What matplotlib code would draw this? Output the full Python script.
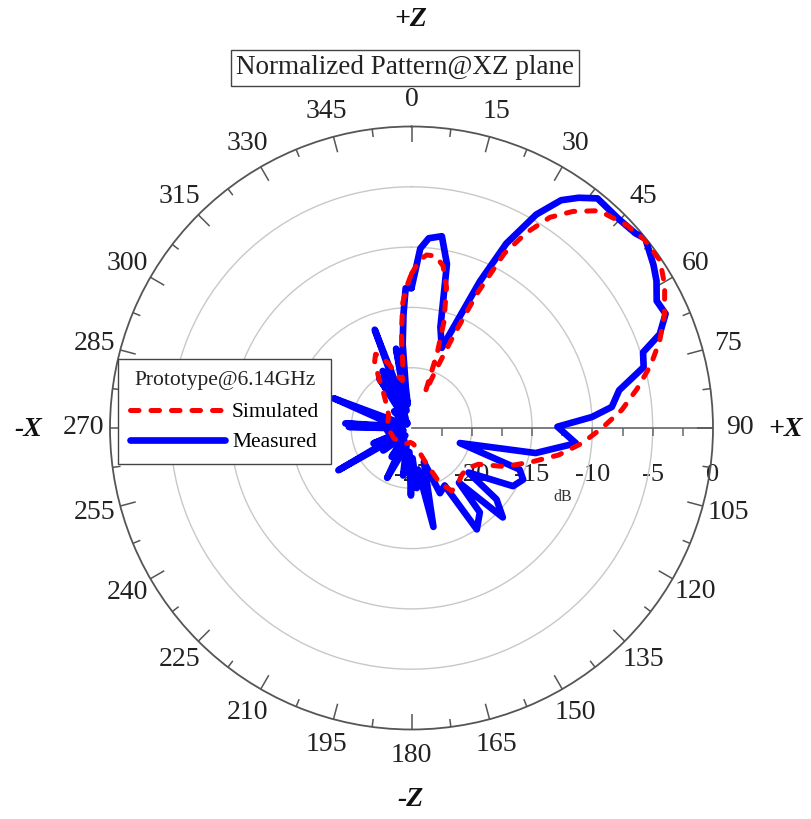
import numpy as np
import matplotlib
matplotlib.use('Agg')
import matplotlib.pyplot as plt
from matplotlib.transforms import ScaledTranslation

plt.rcParams['font.family'] = ['Liberation Serif', 'DejaVu Serif']

# ---------------- data ----------------
sim_deg = [0, 3, 5, 8, 11, 14, 17, 19, 21, 23, 24.5, 26, 28, 30.5, 33.3, 36.7, 40.8,
           46.5, 51, 56, 60.6, 65.8, 70.7, 75.3, 80.1, 85.1, 90, 95.1, 100.4, 105.6,
           112.4, 118.5, 126, 133, 140, 147.5, 153, 158, 165, 175, 185, 200, 220, 240,
           260, 280, 300, 315, 322, 327, 331, 334, 337, 341, 345, 349, 352, 354, 356,
           358, 360]
sim_db = [-12.2, -11.0, -10.6, -10.6, -11.3, -13.0, -15.8, -18.5, -21.8, -19.5, -16.5,
          -12.6, -8.6, -6.2, -4.1, -2.6, -1.2, -0.5, -0.15, -0.15, -0.9, -2.0, -3.2,
          -4.5, -6.0, -7.5, -9.2, -10.8, -12.6, -14.6, -16.6, -18.7, -19.3, -19.3,
          -19.0, -18.8, -20.0, -22.0, -23.3, -23.7, -23.8, -23.6, -23.5, -23.3, -23.2,
          -23.0, -22.8, -22.0, -21.2, -20.0, -18.7, -18.2, -18.5, -19.5, -20.5, -21.0,
          -19.8, -17.0, -14.6, -13.3, -12.2]

meas_deg = [0, 2.8, 5.2, 9.0, 12.2, 16.0, 20.7, 25.0, 27.2, 30.3, 33.3, 36.0, 39.0,
            44.7, 49.0, 51.0, 56.0, 59.0, 62.6, 65.8, 69.3, 71.9, 75.3, 79.7, 84.0,
            86.5, 89.5, 93.7, 95.3, 101.4, 107.3, 111.0, 114.8, 119.8, 128.0, 130.0,
            134.4, 139.0, 141.0, 147.2, 150.0, 156.4, 160.0, 167.5, 171.0, 175.0,
            178.0, 180.5, 185.0, 190.0, 196.0, 206.0, 210.0, 214.6, 220.0, 231.5,
            236.0, 240.0, 244.0, 248.0, 253.0, 262.0, 267.0, 271.0, 272.6, 274.0,
            278.0, 284.0, 290.9, 295.0, 305.0, 314.0, 320.0, 327.0, 330.0, 333.2,
            336.0, 339.5, 344.0, 349.0, 351.0, 352.0, 354.0, 356.0, 357.6, 360]
meas_db = [-13.4, -10.1, -9.2, -8.9, -11.1, -16.3, -17.9, -11.6, -7.8, -4.5, -2.4,
           -1.4, -0.5, -0.6, -0.4, -0.05, -0.8, -1.3, -2.1, -1.9, -3.0, -4.8, -5.1,
           -7.5, -8.3, -10.0, -12.9, -11.8, -11.3, -14.5, -20.8, -15.4, -14.8, -15.3,
           -19.0, -15.8, -14.4, -19.0, -16.0, -15.0, -19.5, -19.1, -22.0, -16.6,
           -21.5, -20.0, -22.5, -19.4, -23.0, -21.0, -23.5, -20.4, -23.8, -22.1,
           -24.2, -22.0, -24.0, -18.0, -24.0, -21.6, -24.3, -23.0, -24.2, -19.8,
           -23.0, -19.5, -24.0, -22.8, -18.1, -24.2, -24.5, -23.0, -24.5, -20.1,
           -24.0, -19.7, -23.5, -16.3, -23.5, -18.3, -23.0, -21.6, -18.0, -15.5,
           -13.4, -13.4]

angle_labels = [str(a) for a in range(0, 360, 15)]
r_labels = ['-25', '-20', '-15', '-10', '-5', '0']
r_values = [-25, -20, -15, -10, -5, 0]

# ---------------- figure ----------------
W, H = 811, 819
fig = plt.figure(figsize=(W / 100, H / 100), dpi=100)
cx, cy, R = 411.5, 428.0, 301.5
ax = fig.add_axes([(cx - R) / W, (H - cy - R) / H, 2 * R / W, 2 * R / H],
                  projection='polar')
ax.set_theta_zero_location('N')
ax.set_theta_direction(-1)
ax.set_ylim(-25, 0)
ax.set_xticks([])
ax.set_yticks([-20, -15, -10, -5])
ax.set_yticklabels([])
ax.yaxis.grid(True, color='#c8c8c8', lw=1.0)
ax.spines['polar'].set_color('#555555')
ax.spines['polar'].set_linewidth(1.3)
ax.tick_params(axis='y', length=0)

px_per_db = R / 25.0

# angular ticks
for k, a in enumerate(np.arange(0, 360, 7.5)):
    L = 16 / px_per_db if k % 2 == 0 else 8 / px_per_db
    t = np.deg2rad(a)
    ax.plot([t, t], [0, -L], color='#555555', lw=1.1, clip_on=False,
            solid_capstyle='butt', zorder=3)

# angular labels
for lab in angle_labels:
    t = np.deg2rad(float(lab))
    ax.text(t, 26.5 / px_per_db, lab, ha='center', va='center', fontsize=20,
            color='#222222', clip_on=False)

# radial axis line and ticks
ax.plot([np.pi / 2, np.pi / 2], [-25, 0], color='#666666', lw=1.2, zorder=2)
minor_r = np.arange(-22.5, 0, 2.5)
ax.plot([np.pi / 2] * len(minor_r), minor_r, ls='none', marker=3, ms=5.5, mew=1.1,
        color='#666666', zorder=2)

down = ScaledTranslation(0, -47 / 100, fig.dpi_scale_trans)
for lab, v in zip(r_labels, r_values):
    ax.text(np.pi / 2, v, lab, ha='center', va='center', fontsize=19,
            color='#222222', transform=ax.transData + down, zorder=1)
ax.text(np.pi / 2, -12.44, 'dB', ha='center', va='center', fontsize=11.5,
        color='#333333',
        transform=ax.transData + ScaledTranslation(0, -69 / 100, fig.dpi_scale_trans))

# curves
ax.plot(np.deg2rad(meas_deg), meas_db, color='#0000ff', lw=4.8,
        solid_joinstyle='round', solid_capstyle='round', label='Measured', zorder=4)
ax.plot(np.deg2rad(sim_deg), sim_db, color='#ff0000', lw=3.6, ls=(0, (1.7, 2.4)),
        dash_capstyle='round', label='Simulated', zorder=5)

handles, labels = ax.get_legend_handles_labels()
leg = ax.legend([handles[1], handles[0]], [labels[1], labels[0]],
                title='Prototype@6.14GHz', loc='upper left',
                bbox_to_anchor=(118 / W, 1 - 359 / H), bbox_transform=fig.transFigure,
                borderaxespad=0, fontsize=15.5, title_fontsize=15.5, frameon=True,
                fancybox=False, framealpha=1, edgecolor='#444444',
                handlelength=4.4, handletextpad=0.35, labelspacing=0.45,
                borderpad=0.55)
leg.get_frame().set_linewidth(1.0)
leg.get_title().set_color('#222222')
leg._legend_box.sep = 9
leg.set_zorder(10)

# outer texts
fig.text(411 / W, 1 - 19 / H, '+Z', ha='center', va='center', fontsize=20,
         fontweight='bold', fontstyle='italic', color='#111111')
fig.text(411 / W, 1 - 800 / H, '-Z', ha='center', va='center', fontsize=20,
         fontweight='bold', fontstyle='italic', color='#111111')
fig.text(28 / W, 1 - 430 / H, '-X', ha='center', va='center', fontsize=20,
         fontweight='bold', fontstyle='italic', color='#111111')
fig.text(786 / W, 1 - 430 / H, '+X', ha='center', va='center', fontsize=20,
         fontweight='bold', fontstyle='italic', color='#111111')
fig.text(405 / W, 1 - 68 / H, 'Normalized Pattern@XZ plane', ha='center', va='center',
         fontsize=19.5, color='#222222',
         bbox=dict(boxstyle='square,pad=0.2', fc='white', ec='#444444', lw=1.0))

fig.savefig('out.png', dpi=100)
